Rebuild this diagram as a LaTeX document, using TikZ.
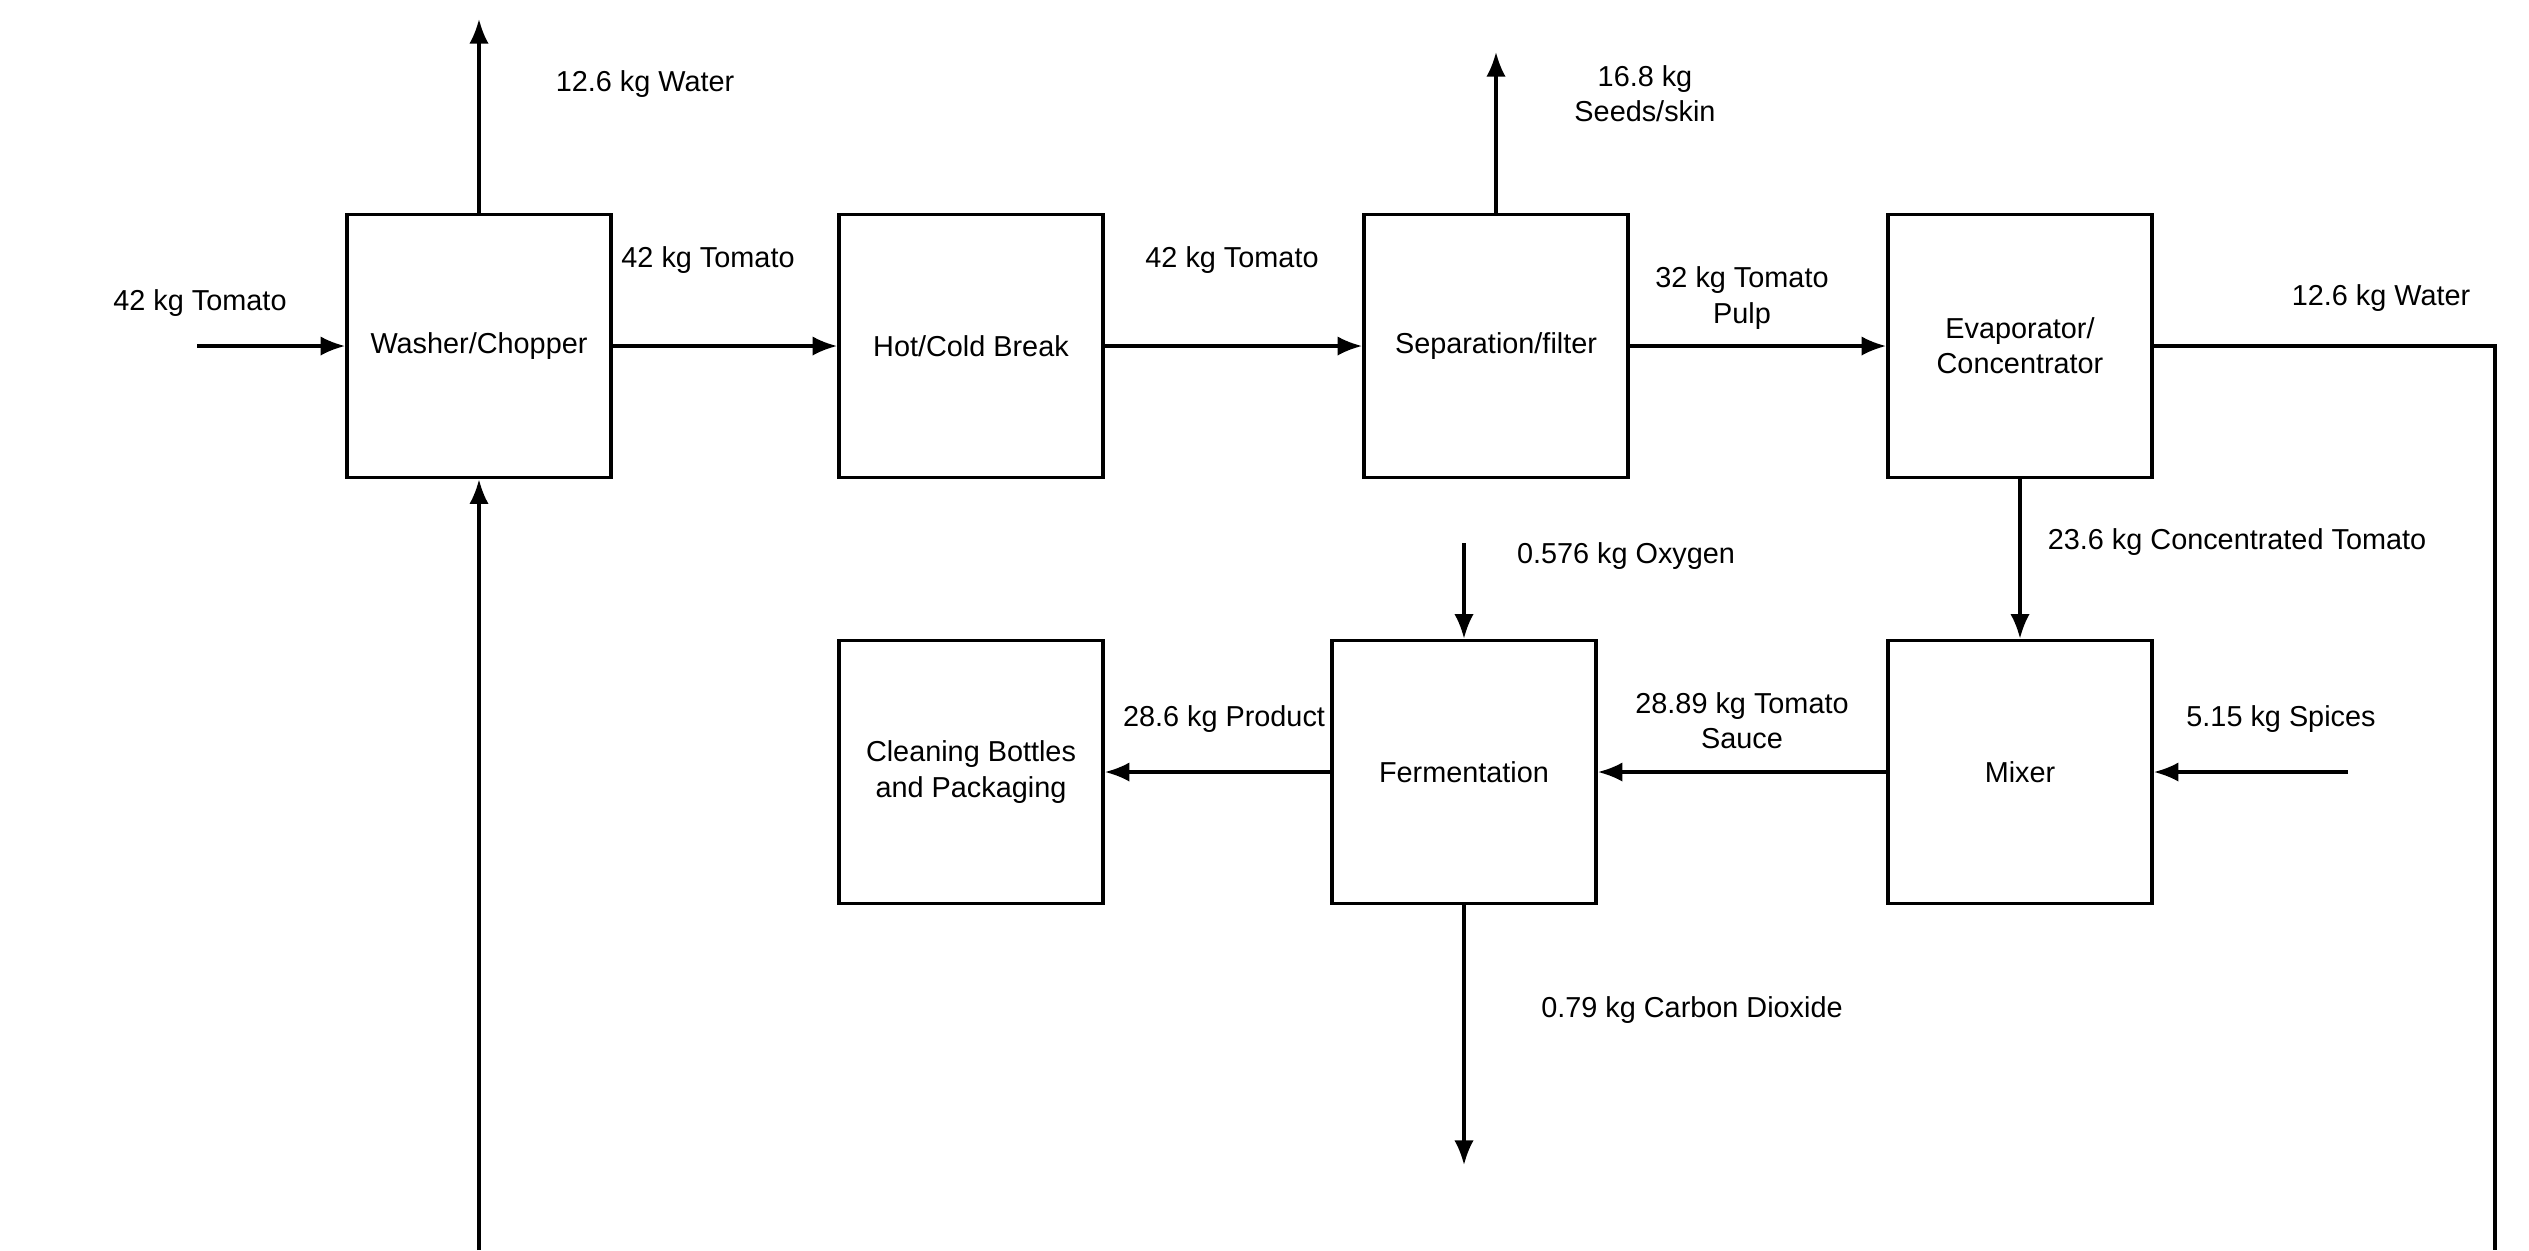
\documentclass[tikz,border=0pt]{standalone}
\usepackage{fontspec}
\setmainfont{Liberation Sans}
\usetikzlibrary{arrows.meta}
\tikzset{
  unit/.style={draw, line width=1pt, minimum width=2.64cm, minimum height=2.63cm, align=center, inner sep=2pt},
  lbl/.style={align=center, inner sep=0pt},
  flow/.style={line width=0.9pt, -{Latex[length=7pt,width=5.5pt]}},
}
\begin{document}
\begin{tikzpicture}[x=0.01cm, y=-0.01cm, font=\fontsize{8.2}{10}\selectfont]
    \useasboundingbox (0,0) rectangle (2529,1250);
    % process units
    \node [unit] (wash) at (479,346) {Washer/Chopper};
    \node [unit] (brk) at (971,346) {Hot/Cold Break};
    \node [unit] (sep) at (1496,346) {Separation/filter};
    \node [unit] (evap) at (2020,346) {Evaporator/\\Concentrator};
    \node [unit] (clean) at (971,772) {Cleaning Bottles\\and Packaging};
    \node [unit] (ferm) at (1464,772) {Fermentation};
    \node [unit] (mix) at (2020,772) {Mixer};
    % free ends
    \coordinate (tin) at (197,346);
    \coordinate (wout) at (479,19);
    \coordinate (sout) at (1496,52);
    \coordinate (oin) at (1464,543);
    \coordinate (spin) at (2348,772);
    \coordinate (cout) at (1464,1165);
    \coordinate (loopr) at (2495,1250);
    \coordinate (loopl) at (479,1250);
    % stream labels
    \node [lbl] (t1) at (200,303) {42 kg Tomato};
    \node [lbl] (w1) at (645,84) {12.6 kg Water};
    \node [lbl] (t2) at (708,260) {42 kg Tomato};
    \node [lbl] (t3) at (1232,260) {42 kg Tomato};
    \node [lbl] (sk) at (1645,94) {16.8 kg\\Seeds/skin};
    \node [lbl] (pu) at (1742,298) {32 kg Tomato\\Pulp};
    \node [lbl] (w2) at (2381,298) {12.6 kg Water};
    \node [lbl] (ct) at (2237,542) {23.6 kg Concentrated Tomato};
    \node [lbl] (ox) at (1626,556) {0.576 kg Oxygen};
    \node [lbl] (sc) at (1742,721) {28.89 kg Tomato\\Sauce};
    \node [lbl] (pr) at (1224,719) {28.6 kg Product};
    \node [lbl] (sp) at (2281,719) {5.15 kg Spices};
    \node [lbl] (co) at (1692,1010) {0.79 kg Carbon Dioxide};
    % streams
    \draw [flow] (tin) -- (wash);
    \draw [flow] (wash) -- (wout);
    \draw [flow] (wash) -- (brk);
    \draw [flow] (brk) -- (sep);
    \draw [flow] (sep) -- (sout);
    \draw [flow] (sep) -- (evap);
    \draw [flow] (evap) -- (mix);
    \draw [flow] (oin) -- (ferm);
    \draw [flow] (spin) -- (mix);
    \draw [flow] (mix) -- (ferm);
    \draw [flow] (ferm) -- (clean);
    \draw [flow] (ferm) -- (cout);
    \draw [line width=0.9pt] (evap.east) -| (loopr);
    \draw [flow] (loopl) -- (wash);
\end{tikzpicture}
\end{document}
